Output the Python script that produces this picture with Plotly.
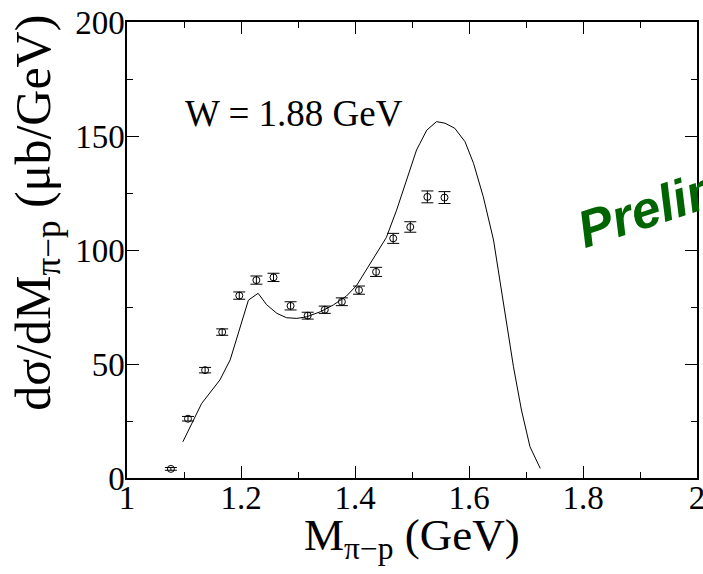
import plotly.graph_objects as go

# Data points (measured)
data_x = [1.077, 1.107, 1.137, 1.167, 1.197, 1.227, 1.257, 1.287, 1.317,
          1.347, 1.377, 1.407, 1.437, 1.467, 1.497, 1.527, 1.557]
data_y = [4.0, 26.0, 47.3, 64.0, 80.0, 86.8, 88.0, 75.5, 71.2,
          73.8, 77.3, 82.4, 90.4, 105.1, 110.1, 123.3, 123.0]
data_err = [0.6, 1.0, 1.2, 1.4, 1.6, 1.8, 1.8, 1.8, 1.5,
            1.6, 1.7, 1.8, 2.0, 2.2, 2.3, 2.6, 2.6]

# Model curve
curve_x = [1.098, 1.131, 1.163, 1.181, 1.213, 1.230, 1.245, 1.263, 1.280,
           1.298, 1.315, 1.339, 1.362, 1.385, 1.403, 1.418, 1.438, 1.455,
           1.473, 1.488, 1.499, 1.508, 1.514, 1.526, 1.543, 1.558, 1.575,
           1.593, 1.608, 1.625, 1.643, 1.660, 1.678, 1.692, 1.707, 1.725]
curve_y = [15.9, 32.7, 43.0, 51.8, 78.0, 81.0, 76.0, 72.2, 70.3,
           70.0, 70.7, 72.9, 75.9, 79.8, 84.5, 90.5, 98.5, 105.5,
           117.5, 129.0, 138.0, 143.9, 146.8, 152.6, 156.3, 155.6, 153.4,
           147.5, 138.0, 123.4, 104.4, 78.0, 48.8, 29.8, 13.7, 4.2]

x_ticks = [1, 1.2, 1.4, 1.6, 1.8, 2]
x_tick_labels = ["1", "1.2", "1.4", "1.6", "1.8", "2"]
y_ticks = [0, 50, 100, 150, 200]

SERIF = "Liberation Serif, Times New Roman, serif"

fig = go.Figure()
fig.add_trace(go.Scatter(
    x=curve_x, y=curve_y, mode="lines",
    line=dict(color="black", width=1), showlegend=False))
fig.add_trace(go.Scatter(
    x=data_x, y=data_y, mode="markers",
    marker=dict(symbol="circle-open", size=7, color="black", line=dict(width=1)),
    error_y=dict(type="data", array=data_err, color="black", thickness=1, width=6),
    showlegend=False))

axis_common = dict(
    showline=True, linecolor="black", linewidth=1.5, mirror="ticks",
    ticks="inside", ticklen=12, tickwidth=1.2, tickcolor="black",
    showgrid=False, zeroline=False, ticklabeloverflow="allow", automargin=False,
    tickfont=dict(family=SERIF, size=33, color="black"),
)

fig.update_xaxes(
    range=[1, 2], tickvals=x_ticks, ticktext=x_tick_labels, ticklabelstandoff=-10,
    minor=dict(dtick=0.1, ticks="inside", ticklen=6, tickcolor="black", showgrid=False),
    **axis_common)
fig.update_yaxes(
    range=[0, 200], tickvals=y_ticks, ticklabelstandoff=-6,
    minor=dict(dtick=25, ticks="inside", ticklen=6, tickcolor="black", showgrid=False),
    **axis_common)

# Axis titles as annotations
fig.add_annotation(
    x=0.5, y=-0.066, xref="paper", yref="paper", text="M<sub>π−p</sub> (GeV)",
    showarrow=False, xanchor="center", yanchor="top",
    font=dict(family=SERIF, size=45, color="black"))
fig.add_annotation(
    x=-0.218, y=0.581, xref="paper", yref="paper", text="dσ/dM<sub>π−p</sub> (μb/GeV)",
    showarrow=False, xanchor="left", yanchor="middle", textangle=-90,
    font=dict(family=SERIF, size=50, color="black"))

fig.add_annotation(
    x=1.098, y=160, xref="x", yref="y", text="W = 1.88 GeV", showarrow=False,
    xanchor="left", yanchor="middle",
    font=dict(family=SERIF, size=37, color="black"))

fig.add_annotation(
    x=1.772, y=95.2, xref="x", yref="y", text="<b><i>Preliminary</i></b>", showarrow=False,
    xanchor="left", yanchor="bottom", textangle=-18,
    font=dict(family="Liberation Sans, Arial, sans-serif", size=52, color="#006400"))

fig.update_layout(
    width=703, height=574,
    margin=dict(l=127, r=6, t=22, b=96, autoexpand=False),
    paper_bgcolor="white", plot_bgcolor="white",
)

fig.write_html("out.html")
